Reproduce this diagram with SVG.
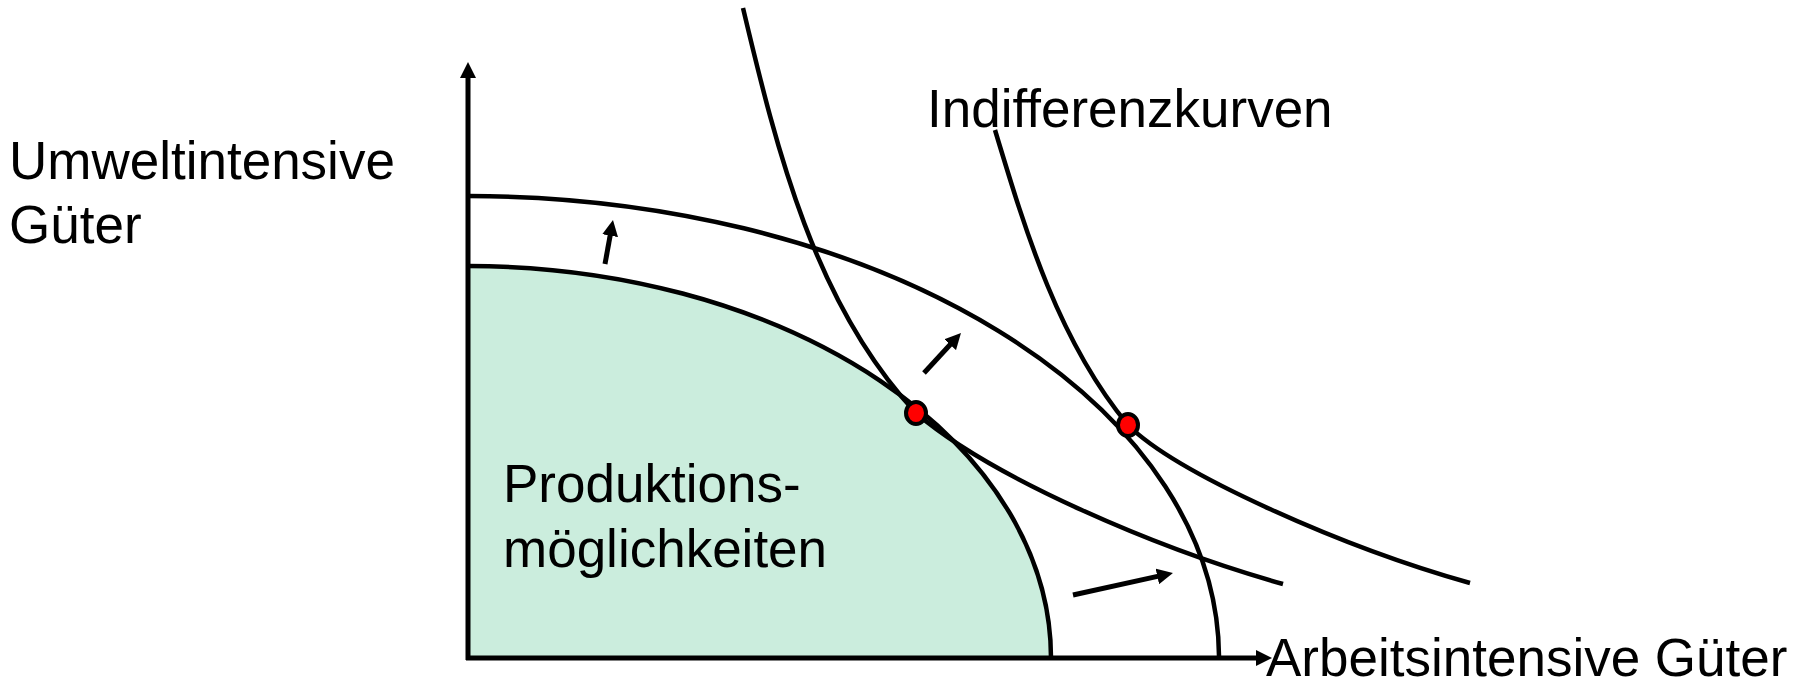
<svg xmlns="http://www.w3.org/2000/svg" width="1804" height="681" viewBox="0 0 1804 681">
<defs>
<style>
.lbl{font-family:"Liberation Sans",Arial,sans-serif;font-size:53px;fill:#000}
.curve{fill:none;stroke:#000;stroke-width:4.5}
.axis{fill:none;stroke:#000;stroke-width:5}
.arr{fill:none;stroke:#000;stroke-width:5}
.dot{fill:#ff0000;stroke:#000;stroke-width:4}
</style>
<marker id="head" viewBox="0 0 16 16" refX="6" refY="8" markerWidth="16" markerHeight="16" markerUnits="userSpaceOnUse" orient="auto">
<path d="M0,0 L16,8 L0,16 Z" fill="#000"/>
</marker>
</defs>
<rect width="1804" height="681" fill="#fff"/>
<g id="production-area">
<path d="M466,266 A583,392 0 0 1 1051,658 L466,658 Z" fill="#cbeddd"/>
</g>
<g id="axes">
<line class="axis" x1="468" y1="660" x2="468" y2="72" marker-end="url(#head)"/>
<line class="axis" x1="466" y1="658" x2="1262" y2="658" marker-end="url(#head)"/>
</g>
<g id="connectors">
<path id="ppf-inner" class="curve" d="M468,266 A583,392 0 0 1 1051,658"/>
<path id="ppf-outer" class="curve" d="M468,196 A751,462 0 0 1 1219,656"/>
<path id="ic-1" class="curve" d="M743,8 C777,151 815,305 916,413 C992,478 1158,549 1283,584"/>
<path id="ic-2" class="curve" d="M995,130 C1026,233 1059,342 1128,425 C1177,474 1345,548 1470,583"/>
<line class="arr" x1="605" y1="264" x2="611.2" y2="229.8" marker-end="url(#head)"/>
<line class="arr" x1="924" y1="373" x2="954.2" y2="340.3" marker-end="url(#head)"/>
<line class="arr" x1="1073" y1="595" x2="1163.2" y2="575.1" marker-end="url(#head)"/>
</g>
<g id="optimum-1"><ellipse class="dot" cx="916" cy="413" rx="10" ry="11"/></g>
<g id="optimum-2"><ellipse class="dot" cx="1128" cy="425" rx="10" ry="11"/></g>
<g id="label-y"><text class="lbl" x="9" y="179">Umweltintensive</text><text class="lbl" x="9" y="243">Güter</text></g>
<g id="label-ic"><text class="lbl" x="927" y="127">Indifferenzkurven</text></g>
<g id="label-ppf"><text class="lbl" x="503" y="502">Produktions-</text><text class="lbl" x="503" y="567">möglichkeiten</text></g>
<g id="label-x"><text class="lbl" x="1266" y="676">Arbeitsintensive Güter</text></g>
</svg>
